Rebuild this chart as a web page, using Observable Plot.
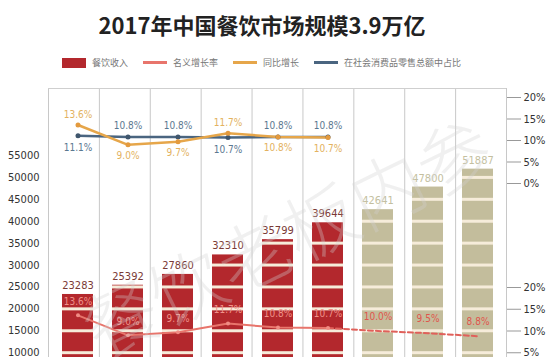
<!DOCTYPE html>
<html><head><meta charset="utf-8">
<script src="https://cdn.jsdelivr.net/npm/d3@7"></script>
<script src="https://cdn.jsdelivr.net/npm/@observablehq/plot@0.6"></script>
<style>
html,body{margin:0;padding:0;background:#fff;width:550px;height:357px;overflow:hidden;}
#wrap{position:relative;width:550px;height:357px;overflow:hidden;}
#wrap svg{position:absolute;left:0;top:0;font-stretch:condensed;}
#title{position:absolute;left:0;top:9px;width:524px;text-align:center;font:bold 22px "Noto Sans CJK SC",sans-serif;color:#222;line-height:30px;z-index:5;}
#legend{position:absolute;left:62px;top:56px;display:flex;align-items:center;font:9px "Noto Sans CJK SC",sans-serif;color:#777;z-index:5;white-space:nowrap;}
#legend .sw{width:24px;margin-right:6px;}
#legend .it{margin-right:15px;}
#wm{position:absolute;left:86px;top:278px;font:300 74px "Noto Sans CJK SC",sans-serif;color:rgba(210,210,210,0.33);transform:rotate(-26deg);transform-origin:0 50%;z-index:4;white-space:nowrap;letter-spacing:0px;pointer-events:none;}
</style></head>
<body><div id="wrap">
<div id="title">2017年中国餐饮市场规模3.9万亿</div>
<div id="legend"></div>
<div id="wm">餐饮老板内参</div>
</div>
<script>
const years = ["2012","2013","2014","2015","2016","2017","2018","2019","2020"];
const revenue = [23283, 25392, 27860, 32310, 35799, 39644, 42641, 47800, 51887];
const isForecast = [false,false,false,false,false,false,true,true,true];
const nominalGrowth = [13.6, 9.0, 9.7, 11.7, 10.8, 10.7, 10.0, 9.5, 8.8];
const yoyGrowth = [13.6, 9.0, 9.7, 11.7, 10.8, 10.7];
const retailShare = [11.1, 10.8, 10.8, 10.7, 10.8, 10.8];
const leftTicks = [10000,15000,20000,25000,30000,35000,40000,45000,50000,55000];
const pctTicks = [0,5,10,15,20];
const legendItems = [
  {label:"餐饮收入", kind:"rect", color:"#b3282d"},
  {label:"名义增长率", kind:"line", color:"#e8756c"},
  {label:"同比增长", kind:"line", color:"#e6a64a"},
  {label:"在社会消费品零售总额中占比", kind:"line", color:"#4a6580"}
];

const RED="#b3282d", KHAKI="#c3bd9c", CREAM="#f6ecda";
const FONT = '"DejaVu Sans","Liberation Sans Narrow",sans-serif';
const W=550, H=420, ML=48, MR=44;
const wrap=document.getElementById("wrap");

// legend
const lg=document.getElementById("legend");
legendItems.forEach(it=>{
  const s=document.createElement("span"); s.className="sw";
  s.style.background=it.color; s.style.height = it.kind==="rect" ? "10px" : "3px";
  const t=document.createElement("span"); t.className="it"; t.textContent=it.label;
  lg.appendChild(s); lg.appendChild(t);
});

const bars = years.map((y,i)=>({year:y, value:revenue[i], forecast:isForecast[i], nominal:nominalGrowth[i]}));
const stripes = bars.flatMap(b=>d3.range(5000, b.value, 5000).map(v=>({year:b.year, v})));
const upper = yoyGrowth.map((v,i)=>({year:years[i], yoy:v, share:retailShare[i]}));
const yoyAbove = upper.filter(d=>d.yoy>d.share), yoyBelow = upper.filter(d=>d.yoy<=d.share);
const xBand = {type:"band", domain:years, range:[ML, W-MR], paddingInner:0.39, paddingOuter:0.195};
const base = {width:W, height:H, marginLeft:ML, marginRight:MR, marginTop:88, marginBottom:0, style:{background:"transparent", fontFamily:FONT, fontStretch:"condensed"}};
const tf = {fontSize:10, fontFamily:FONT};

// background grid
const grid = Plot.plot({...base,
  x:{type:"linear", domain:[0, years.length], range:[ML, W-MR], axis:null},
  y:{domain:[0,1], range:[H,88], axis:null},
  marks:[
    Plot.ruleX(d3.range(0, years.length+1), {stroke:"#c8c8c8", strokeWidth:1}),
    Plot.ruleY([1], {stroke:"#cfcfcf", strokeWidth:1.2})
  ]});
wrap.appendChild(grid);

// bars
const barPlot = Plot.plot({...base,
  x:{...xBand, axis:null},
  y:{domain:[0,55000], range:[396,155], axis:null},
  marks:[
    Plot.barY(bars, {x:"year", y:"value", fill:d=>d.forecast?KHAKI:RED}),
    Plot.tickY(stripes, {x:"year", y:"v", stroke:CREAM, strokeWidth:3}),
    Plot.text(bars, {x:"year", y:"value", text:d=>String(d.value), dy:-9, fontSize:11, fontFamily:FONT, fill:d=>d.forecast?"#c4bf9f":"#7a3a36"}),
    Plot.axisY(leftTicks, {anchor:"left", label:null, tickSize:0, tickPadding:9, fontSize:11, fontFamily:FONT, color:"#333", tickFormat:d=>String(d)})
  ]});
wrap.appendChild(barPlot);

// upper lines
const upPlot = Plot.plot({...base,
  x:{...xBand, axis:null},
  y:{domain:[0,20], range:[183,97], axis:null},
  marks:[
    Plot.axisY(pctTicks, {anchor:"right", label:null, tickSize:14, tickPadding:3, fontSize:11, fontFamily:FONT, color:"#333", stroke:"#999", tickFormat:d=>d+"%"}),
    Plot.line(upper, {x:"year", y:"share", stroke:"#4a6580", strokeWidth:2.5}),
    Plot.line(upper, {x:"year", y:"yoy", stroke:"#e6a64a", strokeWidth:2.5}),
    Plot.dot(upper, {x:"year", y:"share", r:2.5, fill:"#3f566d"}),
    Plot.dot(upper, {x:"year", y:"yoy", r:2.5, fill:"#e39a3e"}),
    Plot.text(yoyAbove, {x:"year", y:"share", text:d=>d.share.toFixed(1)+"%", dy:12, ...tf, fill:"#5b7890"}),
    Plot.text(yoyBelow, {x:"year", y:"share", text:d=>d.share.toFixed(1)+"%", dy:-11, ...tf, fill:"#5b7890"}),
    Plot.text(yoyAbove, {x:"year", y:"yoy", text:d=>d.yoy.toFixed(1)+"%", dy:-10, ...tf, fill:"#e3b25e"}),
    Plot.text(yoyBelow, {x:"year", y:"yoy", text:d=>d.yoy.toFixed(1)+"%", dy:11, ...tf, fill:"#e3b25e"})
  ]});
wrap.appendChild(upPlot);

// lower line
const lowPlot = Plot.plot({...base,
  x:{...xBand, axis:null},
  y:{domain:[0,20], range:[374,287], axis:null},
  marks:[
    Plot.axisY(pctTicks, {anchor:"right", label:null, tickSize:14, tickPadding:3, fontSize:11, fontFamily:FONT, color:"#333", stroke:"#999", tickFormat:d=>d+"%"}),
    Plot.line(bars.slice(0,6), {x:"year", y:"nominal", stroke:"#e8756c", strokeWidth:2}),
    Plot.line(bars.slice(5), {x:"year", y:"nominal", stroke:"#e0605a", strokeWidth:2, strokeDasharray:"5,3"}),
    Plot.dot(bars.slice(0,6), {x:"year", y:"nominal", r:2, fill:"#f08c84"}),
    Plot.text(bars, {x:"year", y:"nominal", text:d=>d.nominal.toFixed(1)+"%", dy:-14, ...tf, fill:d=>d.forecast?"#e0554c":"#f0928a"})
  ]});
wrap.appendChild(lowPlot);
</script>
</body></html>
